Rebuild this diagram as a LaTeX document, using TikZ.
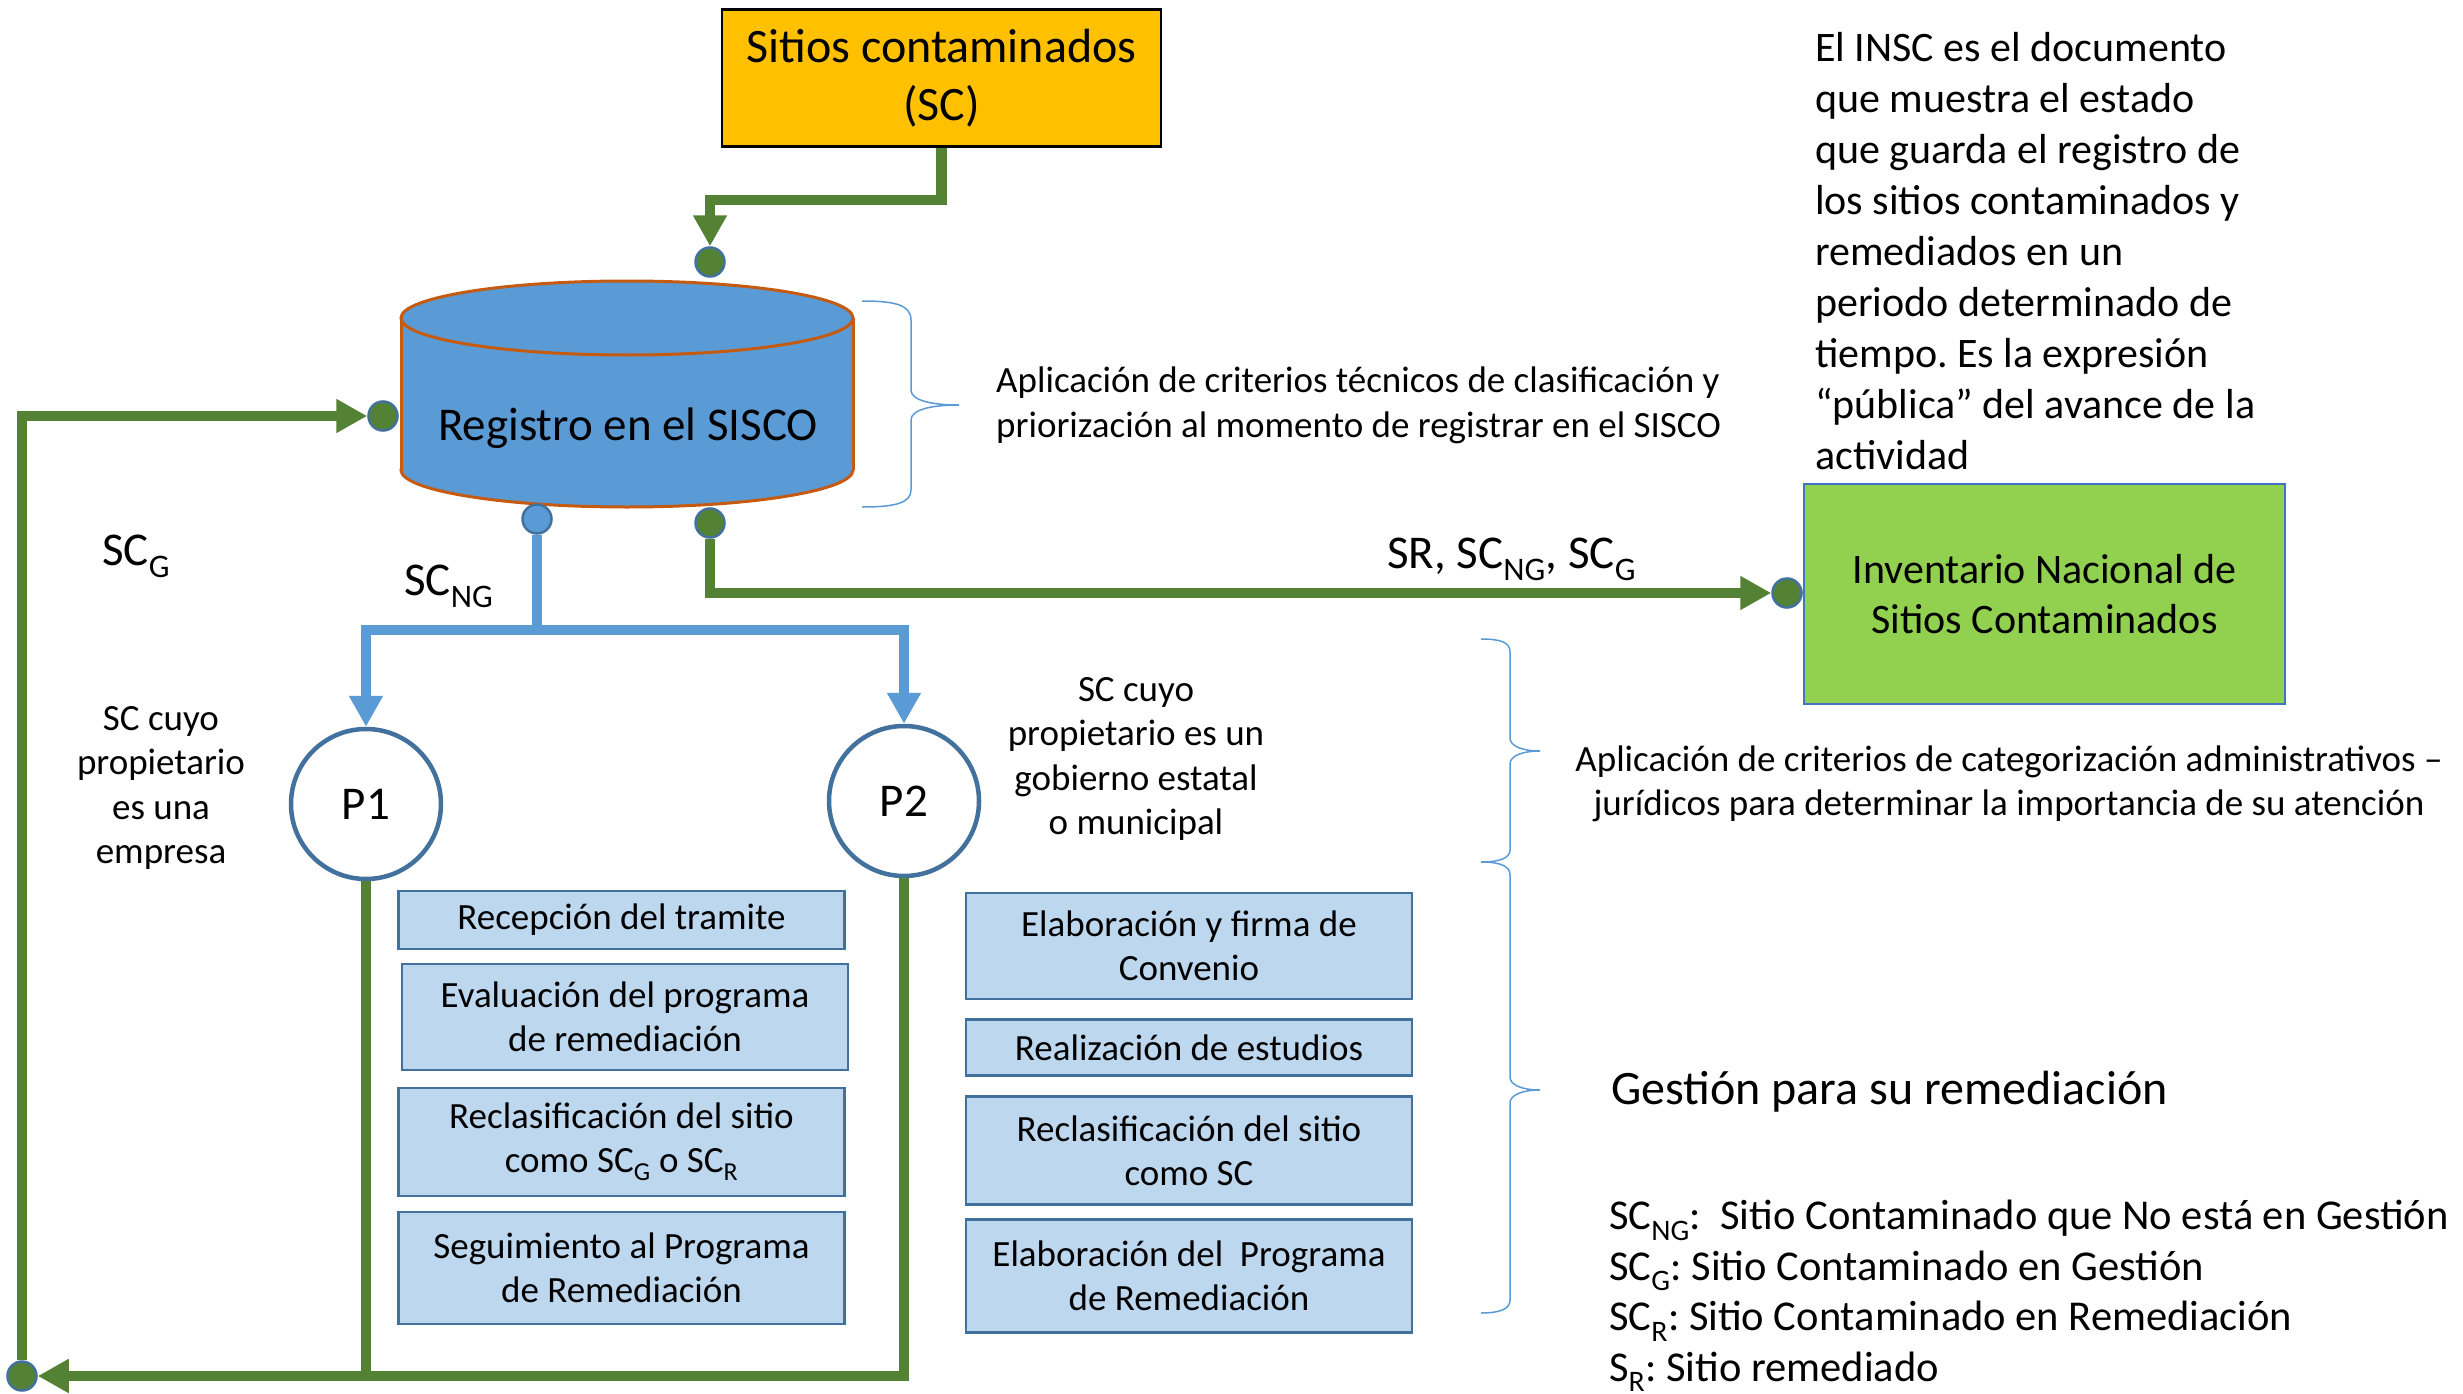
\documentclass[tikz,border=0pt]{standalone}
\usepackage{fontspec}
\setmainfont{Carlito}
\usetikzlibrary{arrows.meta,shapes.geometric}
\definecolor{gline}{HTML}{548235}
\definecolor{bline}{HTML}{5B9BD5}
\definecolor{dotedge}{HTML}{41719C}
\definecolor{cyledge}{HTML}{C55A11}
\definecolor{boxfill}{HTML}{BDD7EE}
\definecolor{scyellow}{HTML}{FFC000}
\definecolor{insgreen}{HTML}{92D050}
\definecolor{insedge}{HTML}{4472C4}
\newcommand\fs[2]{\fontsize{#1}{#2}\selectfont}
\frenchspacing
\begin{document}
\begin{tikzpicture}[x=1pt,y=-1pt,
  gl/.style={line width=10.5pt, draw=gline},
  bl/.style={line width=10.5pt, draw=bline},
  tip/.style={-{Triangle[length=31pt,width=32pt]}},
  dot/.style={circle, draw=dotedge, line width=2.5pt, minimum size=29pt, inner sep=0pt},
  gdot/.style={dot, fill=gline},
  bdot/.style={dot, fill=bline},
  stepbox/.style={draw=dotedge, line width=2.5pt, fill=boxfill, minimum width=446pt, align=center, font=\fs{37}{44}, inner sep=0pt},
  pcirc/.style={circle, draw=dotedge, line width=4.5pt, fill=white, minimum size=150pt, inner sep=0pt, font=\fs{47}{56}},
  txt/.style={inner sep=0pt},
  bracel/.style={draw=bline, line width=1.5pt},
  cyl/.style={ellipse, draw=cyledge, line width=3pt, fill=bline, minimum width=452pt, minimum height=74pt, inner sep=0pt}
]
\useasboundingbox[fill=white] (0,0) rectangle (2463,1394);

% top box
\node[draw=black, line width=2.5pt, fill=scyellow, minimum width=439pt, minimum height=137pt, align=center, font=\fs{48}{58}, inner sep=0pt] (sc) at (941.5,78) {Sitios contaminados\\(SC)};

% cylinder
\node[cyl] (cylbot) at (627,470) {};
\fill[bline] (401,318) rectangle (853,470);
\draw[cyledge, line width=3pt] (401,318) -- (401,470) (853,318) -- (853,470);
\node[cyl] (cyltop) at (627,318) {};
\node[txt, font=\fs{47}{56}] (sisco) at (628,428) {Registro en el SISCO};

% dots
\node[gdot] (dtop) at (710,262) {};
\node[gdot] (dleft) at (383,416) {};
\node[bdot] (dblue) at (537,519) {};
\node[gdot] (dgreen) at (710,523) {};
\node[gdot] (dinsc) at (1787,593) {};
\node[gdot] (dbl) at (22,1376) {};

% INSC box
\node[draw=insedge, line width=2.5pt, fill=insgreen, minimum width=481pt, minimum height=220pt, align=center, font=\fs{42}{50}, inner sep=0pt] (insc) at (2044.5,594) {Inventario Nacional de\\Sitios Contaminados};

% P circles
\node[pcirc] (p1) at (366,804) {P1};
\node[pcirc] (p2) at (904,801) {P2};
\coordinate (split) at (537,630);

% step boxes P1
\node[stepbox, minimum height=58pt] (a1) at (621.5,920) {Recepción del tramite};
\node[stepbox, minimum height=106pt] (a2) at (625,1017) {Evaluación del programa\\de remediación};
\node[stepbox, minimum height=108pt] (a3) at (621.5,1142) {Reclasificación del sitio\\como SC\textsubscript{G} o SC\textsubscript{R}};
\node[stepbox, minimum height=112pt] (a4) at (621.5,1268) {Seguimiento al Programa\\de Remediación};
% step boxes P2
\node[stepbox, minimum height=106pt] (b1) at (1189,946) {Elaboración y firma de\\Convenio};
\node[stepbox, minimum height=56pt] (b2) at (1189,1047.5) {Realización de estudios};
\node[stepbox, minimum height=108pt] (b3) at (1189,1150.5) {Reclasificación del sitio\\como SC};
\node[stepbox, minimum height=113pt] (b4) at (1189,1276) {Elaboración del\ \ Programa\\de Remediación};

% connectors
\draw[gl, tip] (sc.south) -- ++(0,52) -| (dtop.north);
\draw[gl, tip] (dbl.north) |- (dleft.west);
\draw[gl, tip] (dgreen.south) |- (dinsc.west);
\draw[bl] (dblue.south) -- (split);
\draw[bl, tip] (split) -| (p1.north);
\draw[bl, tip] (split) -| (p2.north);
\draw[gl] (p1.south) -- (p1.south |- dbl.east);
\draw[gl, tip] (p2.south) |- (dbl.east);

% braces
\draw[bracel] (862,301) .. controls (895,301) and (911,305) .. (911,320) -- (911,390)
  .. controls (911,400) and (930,405) .. (959,405) .. controls (930,405) and (911,410) .. (911,420)
  -- (911,490) .. controls (911,503) and (895,507) .. (862,507);
\draw[bracel] (1481,639) .. controls (1500,639) and (1510,642) .. (1510,652) -- (1510,738)
  .. controls (1510,746) and (1522,751) .. (1540,751) .. controls (1522,751) and (1510,756) .. (1510,764)
  -- (1510,850) .. controls (1510,858) and (1500,862) .. (1481,862);
\draw[bracel] (1481,862) .. controls (1500,862) and (1510,866) .. (1510,875) -- (1510,1077)
  .. controls (1510,1085) and (1522,1090) .. (1540,1090) .. controls (1522,1090) and (1510,1095) .. (1510,1103)
  -- (1510,1300) .. controls (1510,1309) and (1500,1313) .. (1481,1313);

% labels
\node[txt, anchor=base west, font=\fs{47}{56}] (lscg) at (102,565) {SC\textsubscript{G}};
\node[txt, anchor=base west, font=\fs{47}{56}] (lscng) at (404,595) {SC\textsubscript{NG}};
\node[txt, anchor=base west, font=\fs{47}{56}] (lsr) at (1387,568) {SR, SC\textsubscript{NG}, SC\textsubscript{G}};

\node[txt, align=center, font=\fs{37}{44.5}] (t1) at (161,788) {SC cuyo\\propietario\\es una\\empresa};
\node[txt, align=center, font=\fs{37}{44.5}] (t2) at (1136,759) {SC cuyo\\propietario es un\\gobierno estatal\\o municipal};

\node[txt, anchor=west, align=left, font=\fs{37}{45}] (crit1) at (996,405) {Aplicación de criterios técnicos de clasificación y\\priorización al momento de registrar en el SISCO};
\node[txt, align=center, font=\fs{37}{44}] (crit2) at (2009,784) {Aplicación de criterios de categorización administrativos –\\jurídicos para determinar la importancia de su atención};

\node[txt, anchor=west, align=left, font=\fs{42}{51}] (inscdesc) at (1815,251) {El INSC es el documento\\que muestra el estado\\que guarda el registro de\\los sitios contaminados y\\remediados en un\\periodo determinado de\\tiempo. Es la expresión\\“pública” del avance de la\\actividad};

\node[txt, anchor=west, font=\fs{48}{58}] (gest) at (1611,1092) {Gestión para su remediación};

\node[txt, anchor=west, align=left, font=\fs{42.5}{50.5}] (legend) at (1609,1296) {SC\textsubscript{NG}:\ \ Sitio Contaminado que No está en Gestión\\SC\textsubscript{G}: Sitio Contaminado en Gestión\\SC\textsubscript{R}: Sitio Contaminado en Remediación\\S\textsubscript{R}: Sitio remediado};
\end{tikzpicture}
\end{document}
